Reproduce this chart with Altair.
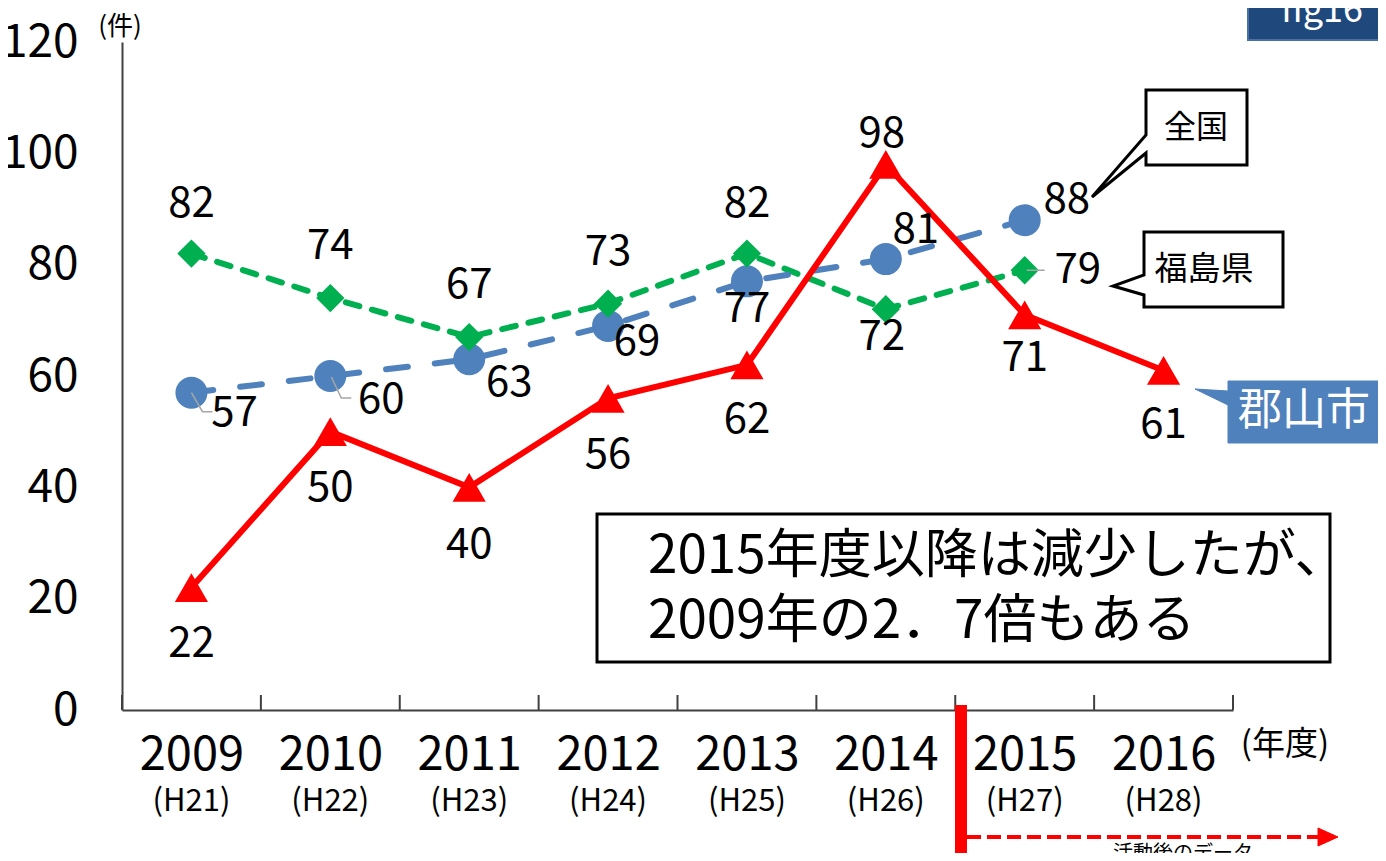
import json
import altair as alt
import pandas as pd

# ---------------- data ----------------
years = ["2009", "2010", "2011", "2012", "2013", "2014", "2015", "2016"]
eras = ["(H21)", "(H22)", "(H23)", "(H24)", "(H25)", "(H26)", "(H27)", "(H28)"]
koriyama = [22, 50, 40, 56, 62, 98, 71, 61]          # 郡山市
zenkoku = [57, 60, 63, 69, 77, 81, 88]                # 全国 (2009-2015)
fukushima = [82, 74, 67, 73, 82, 72, 79]              # 福島県 (2009-2015)
y_ticks = [0, 20, 40, 60, 80, 100, 120]

FONT = "Noto Sans CJK JP"
RED, BLUE, GREEN = "#FF0000", "#4F81BD", "#00B050"
W, H = 1111, 668
N = len(years)


def frame(vals):
    return pd.DataFrame({
        "year": years[:len(vals)],
        "pos": [i + 0.5 for i in range(len(vals))],
        "value": vals,
    })


df_k, df_z, df_f = frame(koriyama), frame(zenkoku), frame(fukushima)
df_era = pd.DataFrame({"pos": [i + 0.5 for i in range(N)], "era": eras})
df_b = pd.DataFrame({"b": list(range(N + 1))})
one = pd.DataFrame({"a": [0]})

xs = alt.Scale(domain=[0, N], nice=False, zero=False)
ys = alt.Scale(domain=[0, 120], nice=False)

XAXIS = alt.Axis(
    values=[i + 0.5 for i in range(N)],
    labelExpr=f"{json.dumps(years)}[floor(datum.value)]",
    title=None, ticks=False, tickSize=0, grid=False,
    domainColor="#404040", domainWidth=2,
    labelFont=FONT, labelFontSize=47, labelColor="black",
    labelPadding=45, labelBaseline="middle", labelFlush=False, labelOverlap=False,
)
YAXIS = alt.Axis(
    values=y_ticks, title=None, ticks=False, tickSize=0, grid=False,
    domainColor="#404040", domainWidth=2,
    labelFont=FONT, labelFontSize=46, labelColor="black",
    labelPadding=44, labelFlush=False, labelOverlap=False,
)


def X(field="pos"):
    return alt.X(f"{field}:Q", scale=xs, axis=XAXIS)


def Y():
    return alt.Y("value:Q", scale=ys, axis=YAXIS)


layers = []

# tick marks at category boundaries (pointing up)
layers.append(
    alt.Chart(df_b).mark_rule(color="#404040", strokeWidth=2)
    .encode(x=X("b"), y=alt.value(H), y2=alt.value(H - 15))
)

# lines
layers.append(alt.Chart(df_f).mark_line(color=GREEN, strokeWidth=6, strokeDash=[14, 13], strokeCap="round")
              .encode(x=X(), y=Y()))
layers.append(alt.Chart(df_z).mark_line(color=BLUE, strokeWidth=6, strokeDash=[22, 27], strokeCap="round")
              .encode(x=X(), y=Y()))
layers.append(alt.Chart(df_k).mark_line(color=RED, strokeWidth=6).encode(x=X(), y=Y()))

# points
layers.append(alt.Chart(df_z).mark_point(shape="circle", filled=True, size=1024, color=BLUE, opacity=1)
              .encode(x=X(), y=Y()))
layers.append(alt.Chart(df_f).mark_point(shape="diamond", filled=True, size=800, color=GREEN, opacity=1)
              .encode(x=X(), y=Y()))
layers.append(alt.Chart(df_k).mark_point(shape="triangle-up", filled=True, size=1100, color=RED, opacity=1)
              .encode(x=X(), y=Y()))


# thin grey leader lines for a few labels
def leader(df, yr, path):
    return (
        alt.Chart(df)
        .transform_filter(alt.FieldOneOfPredicate(field="year", oneOf=[yr]))
        .mark_point(shape=path, size=4, filled=False, stroke="#A6A6A6", strokeWidth=1.5, opacity=1)
        .encode(x=X(), y=Y())
    )


layers.append(leader(df_z, "2009", "M0,0L11,19L21,19"))
layers.append(leader(df_z, "2010", "M1,1L11,22L21,22"))
layers.append(leader(df_f, "2015", "M2,0L20,0"))

# data labels
red_off = [(0, 56), (0, 56), (0, 58), (0, 57), (0, 55), (-4, -30), (0, 43), (0, 55)]
blue_off = [(43, 20), (51, 24), (40, 24), (29, 16), (0, 28), (30, -29), (42, -20)]
green_off = [(0, -50), (0, -52), (0, -52), (0, -52), (0, -50), (-4, 28), (53, 0)]


def label_layers(df, offsets):
    groups = {}
    for yr, off in zip(df["year"], offsets):
        groups.setdefault(off, []).append(yr)
    out = []
    for (dx, dy), yrs in groups.items():
        out.append(
            alt.Chart(df)
            .transform_filter(alt.FieldOneOfPredicate(field="year", oneOf=yrs))
            .mark_text(font=FONT, fontSize=42, color="black", dx=dx, dy=dy, baseline="middle", align="center")
            .encode(x=X(), y=Y(), text="value:Q")
        )
    return out


layers += label_layers(df_f, green_off)
layers += label_layers(df_z, blue_off)
layers += label_layers(df_k, red_off)

# era labels under the years
layers.append(
    alt.Chart(df_era).mark_text(font=FONT, fontSize=31, color="black", baseline="middle")
    .encode(x=X(), y=alt.value(760), text="era:N")
)

# unit labels
layers.append(alt.Chart(one).mark_text(text="(件)", font=FONT, fontSize=26, color="black", baseline="middle")
              .encode(x=alt.value(-2), y=alt.value(-15)))
layers.append(alt.Chart(one).mark_text(text="(年度)", font=FONT, fontSize=33, color="black", baseline="middle")
              .encode(x=alt.value(1163), y=alt.value(703)))

# callouts
layers.append(
    alt.Chart(one).mark_point(shape="M0,0L101,0L101,75L0,75L0,63L-54,107L0,45Z", size=4, filled=True,
                              fill="white", stroke="black", strokeWidth=3, opacity=1)
    .encode(x=alt.value(1024), y=alt.value(48))
)
layers.append(alt.Chart(one).mark_text(text="全国", font=FONT, fontSize=32, color="black", baseline="middle")
              .encode(x=alt.value(1074), y=alt.value(86)))
layers.append(
    alt.Chart(one).mark_point(shape="M0,0L139,0L139,75L0,75L0,63L-31,54L0,43Z", size=4, filled=True,
                              fill="white", stroke="black", strokeWidth=3, opacity=1)
    .encode(x=alt.value(1022), y=alt.value(190))
)
layers.append(alt.Chart(one).mark_text(text="福島県", font=FONT, fontSize=33, color="black", baseline="middle")
              .encode(x=alt.value(1082), y=alt.value(228)))
layers.append(
    alt.Chart(one).mark_point(shape="M0,0L152,0L152,62L0,62L0,24L-33,8L0,10Z", size=4, filled=True,
                              fill=BLUE, stroke=BLUE, strokeWidth=1, opacity=1)
    .encode(x=alt.value(1106), y=alt.value(339))
)
layers.append(alt.Chart(one).mark_text(text="郡山市", font=FONT, fontSize=44, color="white", baseline="middle")
              .encode(x=alt.value(1182), y=alt.value(370)))

# main annotation box
layers.append(
    alt.Chart(one).mark_rect(fill="white", stroke="black", strokeWidth=3)
    .encode(x=alt.value(475), x2=alt.value(1208), y=alt.value(472), y2=alt.value(620))
)
layers.append(alt.Chart(one).mark_text(text="2015年度以降は減少したが、", font=FONT, fontSize=53, color="black",
                                       align="left", baseline="middle")
              .encode(x=alt.value(526), y=alt.value(515)))
layers.append(alt.Chart(one).mark_text(text="2009年の2．7倍もある", font=FONT, fontSize=53, color="black",
                                       align="left", baseline="middle")
              .encode(x=alt.value(526), y=alt.value(580)))

# fig16 badge
layers.append(
    alt.Chart(one).mark_rect(fill="#1F497D", stroke="#4A6FA5", strokeWidth=2)
    .encode(x=alt.value(1126), x2=alt.value(1275), y=alt.value(-50), y2=alt.value(-2))
)
layers.append(alt.Chart(one).mark_text(text="fig16", font=FONT, fontSize=36, color="white", baseline="alphabetic")
              .encode(x=alt.value(1200), y=alt.value(-20)))

# activity marker: red bar + dashed arrow
layers.append(
    alt.Chart(one).mark_rect(fill=RED)
    .encode(x=alt.value(833), x2=alt.value(845), y=alt.value(663), y2=alt.value(815))
)
layers.append(
    alt.Chart(one).mark_rule(color=RED, strokeWidth=4, strokeDash=[14, 6])
    .encode(x=alt.value(845), x2=alt.value(1198), y=alt.value(795))
)
layers.append(
    alt.Chart(one).mark_point(shape="M-10,-9L10,0L-10,9Z", size=4, filled=True, fill=RED, stroke=RED,
                              strokeWidth=1, opacity=1)
    .encode(x=alt.value(1206), y=alt.value(795))
)
layers.append(alt.Chart(one).mark_text(text="活動後のデータ", font=FONT, fontSize=20, color="black", baseline="top")
              .encode(x=alt.value(1061), y=alt.value(802)))

chart = (
    alt.layer(*layers)
    .properties(
        width=W, height=H, background="white",
        autosize=alt.AutoSizeParams(type="none"),
        padding={"left": 114, "top": 34, "right": 145, "bottom": 143},
    )
    .configure_view(stroke=None)
)

chart.save("out.html", embed_options={"renderer": "svg", "actions": False})
